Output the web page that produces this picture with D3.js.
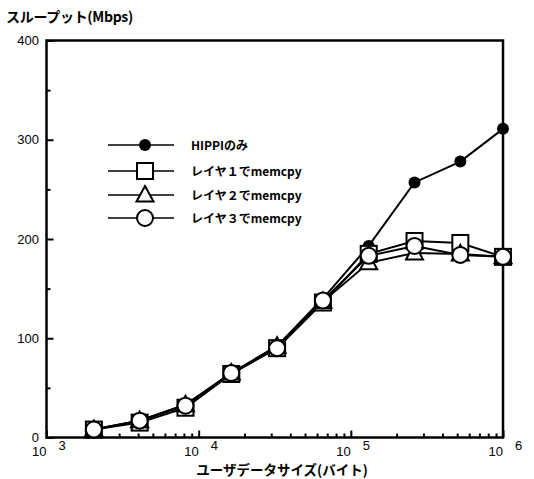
<!DOCTYPE html>
<html>
<head>
<meta charset="utf-8">
<script src="https://cdn.jsdelivr.net/npm/d3@7"></script>
<style>
  body { margin: 0; background: #fff; }
  text { font-family: "Liberation Sans", Arial, sans-serif; fill: #000; }
  .jp { font-family: "Noto Sans CJK JP", sans-serif; font-weight: bold; }
</style>
</head>
<body>
<svg id="chart" width="534" height="479"></svg>
<script>

// data
var sizes = [2048, 4096, 8192, 16384, 32768, 65536, 131072, 262144, 524288, 1000000];
var hippi  = [8, 17, 33, 65, 92, 140, 193, 257, 278, 311];
var layer1 = [8, 15, 30, 64, 90, 136, 185, 198, 196, 182];
var layer2 = [8, 17, 33, 65, 92, 137, 176, 186, 185, 182];
var layer3 = [8, 17, 32, 65, 90, 138, 183, 193, 184, 182];
var yTicks = [0, 100, 200, 300, 400];
var xDecades = [3, 4, 5, 6];

var series = [
  { name: 'HIPPIのみ',        values: hippi,  symbol: 'dot' },
  { name: 'レイヤ１でmemcpy', values: layer1, symbol: 'square' },
  { name: 'レイヤ２でmemcpy', values: layer2, symbol: 'triangle' },
  { name: 'レイヤ３でmemcpy', values: layer3, symbol: 'circle' }
];

var settings = { left: 46.5, right: 503, top: 40.5, bottom: 437.5 };

var svg = d3.select('#chart');

var scaleX = d3.scaleLog()
  .domain([1e3, 1e6])
  .range([settings.left, settings.right]);

var scaleY = d3.scaleLinear()
  .domain([0, 400])
  .range([settings.bottom, settings.top]);

// frame
svg.append('rect')
  .attr('x', settings.left)
  .attr('y', settings.top)
  .attr('width', settings.right - settings.left)
  .attr('height', settings.bottom - settings.top)
  .attr('fill', 'none')
  .attr('stroke', '#000')
  .attr('stroke-width', 2.5);

// x axis: inward ticks, major + minor
var minor = [];
for (var e = 3; e < 6; e++) {
  for (var m = 2; m <= 9; m++) minor.push(m * Math.pow(10, e));
}
var axisXMinor = d3.axisTop(scaleX).tickValues(minor).tickSize(4).tickFormat('');
var axisXMajor = d3.axisTop(scaleX).tickValues(xDecades.map(function (d) { return Math.pow(10, d); }))
  .tickSize(7).tickFormat('');

svg.append('g').attr('transform', 'translate(0,' + settings.bottom + ')').call(axisXMinor);
svg.append('g').attr('transform', 'translate(0,' + settings.bottom + ')').call(axisXMajor);

// y axis: inward ticks, major + minor
var axisYMajor = d3.axisRight(scaleY).tickValues(yTicks).tickSize(7).tickFormat('');
var axisYMinor = d3.axisRight(scaleY).tickValues([50, 150, 250, 350]).tickSize(4).tickFormat('');
svg.append('g').attr('transform', 'translate(' + settings.left + ',0)').call(axisYMajor);
svg.append('g').attr('transform', 'translate(' + settings.left + ',0)').call(axisYMinor);

svg.selectAll('.domain').remove();
svg.selectAll('.tick line').attr('stroke', '#000').attr('stroke-width', 2);

// y tick labels
svg.selectAll('.ylab')
  .data(yTicks)
  .enter()
  .append('text')
  .attr('x', 39)
  .attr('y', function (d) { return scaleY(d) + 4.5; })
  .attr('text-anchor', 'end')
  .style('font-size', '13px')
  .text(function (d) { return d; });

// x tick labels, 10 with raised exponent
var xl = svg.selectAll('.xlab')
  .data(xDecades)
  .enter()
  .append('g')
  .attr('transform', function (d) { return 'translate(' + scaleX(Math.pow(10, d)) + ',0)'; });
xl.append('text')
  .attr('x', 0)
  .attr('y', 456)
  .attr('text-anchor', 'end')
  .style('font-size', '13px')
  .text('10');
xl.append('text')
  .attr('x', 12)
  .attr('y', 450)
  .style('font-size', '13px')
  .text(function (d) { return d; });

// titles
svg.append('text')
  .classed('jp', true)
  .attr('x', 6)
  .attr('y', 22)
  .style('font-size', '14px')
  .style('letter-spacing', '-0.3px')
  .text('スループット(Mbps)');

svg.append('text')
  .classed('jp', true)
  .attr('x', 282)
  .attr('y', 475)
  .attr('text-anchor', 'middle')
  .style('font-size', '13.5px')
  .text('ユーザデータサイズ(バイト)');

// symbols
function drawSymbol(g, type, x, y) {
  if (type === 'dot') {
    g.append('circle').attr('cx', x).attr('cy', y).attr('r', 6)
      .attr('fill', '#000');
  } else if (type === 'square') {
    g.append('rect').attr('x', x - 8).attr('y', y - 8).attr('width', 16).attr('height', 16)
      .attr('fill', '#fff').attr('stroke', '#000').attr('stroke-width', 2);
  } else if (type === 'triangle') {
    g.append('path')
      .attr('d', 'M' + x + ',' + (y - 9) + 'L' + (x + 8.5) + ',' + (y + 6.5) + 'L' + (x - 8.5) + ',' + (y + 6.5) + 'Z')
      .attr('fill', '#fff').attr('stroke', '#000').attr('stroke-width', 2);
  } else {
    g.append('circle').attr('cx', x).attr('cy', y).attr('r', 8)
      .attr('fill', '#fff').attr('stroke', '#000').attr('stroke-width', 2);
  }
}

var line = d3.line()
  .x(function (d, i) { return scaleX(sizes[i]); })
  .y(function (d) { return scaleY(d); });

series.forEach(function (s) {
  var g = svg.append('g');
  g.append('path')
    .attr('d', line(s.values))
    .attr('fill', 'none')
    .attr('stroke', '#000')
    .attr('stroke-width', 2);
  s.values.forEach(function (v, i) {
    drawSymbol(g, s.symbol, scaleX(sizes[i]), scaleY(v));
  });
});

// legend
var legend = svg.selectAll('.legend')
  .data(series)
  .enter()
  .append('g')
  .attr('transform', function (d, i) { return 'translate(0,' + [145, 171, 195, 218][i] + ')'; });

legend.append('line')
  .attr('x1', 108).attr('x2', 174)
  .attr('stroke', '#000').attr('stroke-width', 1.5);
legend.each(function (d) { drawSymbol(d3.select(this), d.symbol, 145, 0); });
legend.append('text')
  .classed('jp', true)
  .attr('x', 191)
  .attr('y', 4.5)
  .style('font-size', '12px')
  .text(function (d) { return d.name; });

</script>
</body>
</html>
